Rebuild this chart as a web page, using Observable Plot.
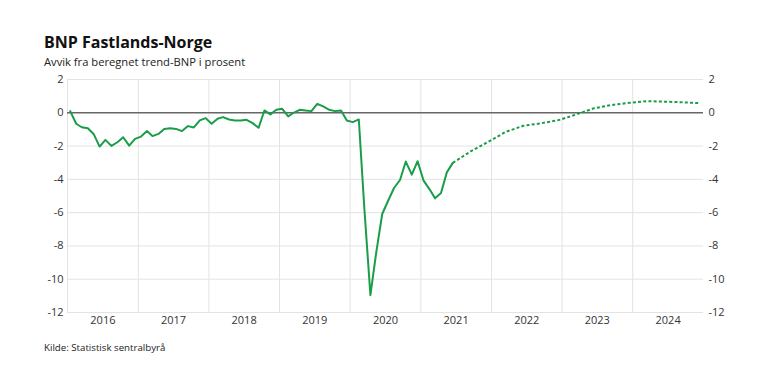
<!DOCTYPE html>
<html>
<head>
<meta charset="utf-8">
<script src="https://cdn.jsdelivr.net/npm/d3@7"></script>
<script src="https://cdn.jsdelivr.net/npm/@observablehq/plot@0.6"></script>
<style>
  html, body { margin: 0; padding: 0; background: #fff; }
  #wrap { position: relative; width: 768px; height: 389px; font-family: "Open Sans", sans-serif; color: #222; overflow: hidden; }
  .t { position: absolute; left: 44px; white-space: nowrap; line-height: normal; }
  #title { top: 31px; font-size: 16px; font-weight: 700; color: #111; }
  #subtitle { top: 54px; font-size: 11.2px; color: #222; }
  #chart { position: absolute; left: 0; top: 70px; }
  #caption { top: 340.5px; font-size: 9.7px; color: #222; }
</style>
</head>
<body>
<div id="wrap">
  <div id="title" class="t">BNP Fastlands-Norge</div>
  <div id="subtitle" class="t">Avvik fra beregnet trend-BNP i prosent</div>
  <div id="chart"></div>
  <div id="caption" class="t">Kilde: Statistisk sentralbyrå</div>
</div>
<script>
// Observed monthly values, starting January 2016 (percent deviation from trend)
const observedStart = [2016, 1];
const observedValues = [
  0.1, -0.66, -0.87, -0.93, -1.27, -2.03, -1.63, -1.99, -1.77, -1.47, -1.97, -1.57,
  -1.43, -1.1, -1.4, -1.27, -0.97, -0.93, -0.97, -1.1, -0.8, -0.88, -0.46, -0.32,
  -0.66, -0.36, -0.26, -0.4, -0.46, -0.46, -0.42, -0.62, -0.9, 0.14, -0.1, 0.18,
  0.24, -0.22, 0.0, 0.18, 0.14, 0.1, 0.54, 0.38, 0.18, 0.1, 0.14, -0.46,
  -0.56, -0.4, -5.8, -10.96, -8.4, -6.08, -5.3, -4.52, -4.04, -2.93, -3.72, -2.91,
  -4.08, -4.6, -5.14, -4.82, -3.58, -3.01
];
// Projection (dotted)
const projectionMonths = ["2021-06","2021-09","2021-12","2022-03","2022-06","2022-09","2022-12",
  "2023-03","2023-06","2023-09","2023-12","2024-03","2024-06","2024-09","2024-12"];
const projectionValues = [-3.01, -2.32, -1.75, -1.15, -0.78, -0.63, -0.44,
  -0.1, 0.27, 0.47, 0.6, 0.7, 0.67, 0.63, 0.58];
const years = [2016, 2017, 2018, 2019, 2020, 2021, 2022, 2023, 2024];
const yTicks = [2, 0, -2, -4, -6, -8, -10, -12];

const midMonth = (y, m) => new Date(Date.UTC(y, m - 1, 15));
const observed = observedValues.map((v, i) => ({
  date: midMonth(observedStart[0] + Math.floor((observedStart[1] - 1 + i) / 12), ((observedStart[1] - 1 + i) % 12) + 1),
  value: v
}));
const projection = projectionMonths.map((s, i) => {
  const [y, m] = s.split("-").map(Number);
  return {date: midMonth(y, m), value: projectionValues[i]};
});
const yearStarts = years.map(y => new Date(Date.UTC(y, 0, 1)));
const yearMids = years.map(y => new Date(Date.UTC(y, 6, 2)));
const green = "#1a9d49";

const plot = Plot.plot({
  width: 768,
  height: 260,
  marginLeft: 67,
  marginRight: 65,
  marginTop: 9,
  marginBottom: 18,
  style: {fontFamily: "Open Sans", fontSize: "11px", color: "#333", background: "transparent"},
  x: {type: "utc", domain: [new Date(Date.UTC(2016, 0, 1)), new Date(Date.UTC(2025, 0, 1))]},
  y: {domain: [-12, 2]},
  marks: [
    Plot.ruleY(yTicks.filter(d => d !== 0), {stroke: "#e3e3e3", strokeWidth: 1}),
    Plot.ruleX(yearStarts, {stroke: "#e3e3e3", strokeWidth: 1}),
    Plot.ruleY([0], {stroke: "#666", strokeWidth: 1.6}),
    Plot.axisX({ticks: yearMids, tickSize: 0, tickPadding: 4, tickFormat: d => String(d.getUTCFullYear()), label: null, fontSize: 11}),
    Plot.axisY({anchor: "left", ticks: yTicks, tickSize: 0, tickPadding: 4, tickFormat: d => String(d), label: null}),
    Plot.axisY({anchor: "right", ticks: yTicks, tickSize: 0, tickPadding: 5, tickFormat: d => String(d), label: null}),
    Plot.line(projection, {x: "date", y: "value", stroke: green, strokeWidth: 2, strokeDasharray: "3,2.2", strokeLinecap: "butt"}),
    Plot.line(observed, {x: "date", y: "value", stroke: green, strokeWidth: 2})
  ]
});
document.getElementById("chart").appendChild(plot);
</script>
</body>
</html>
